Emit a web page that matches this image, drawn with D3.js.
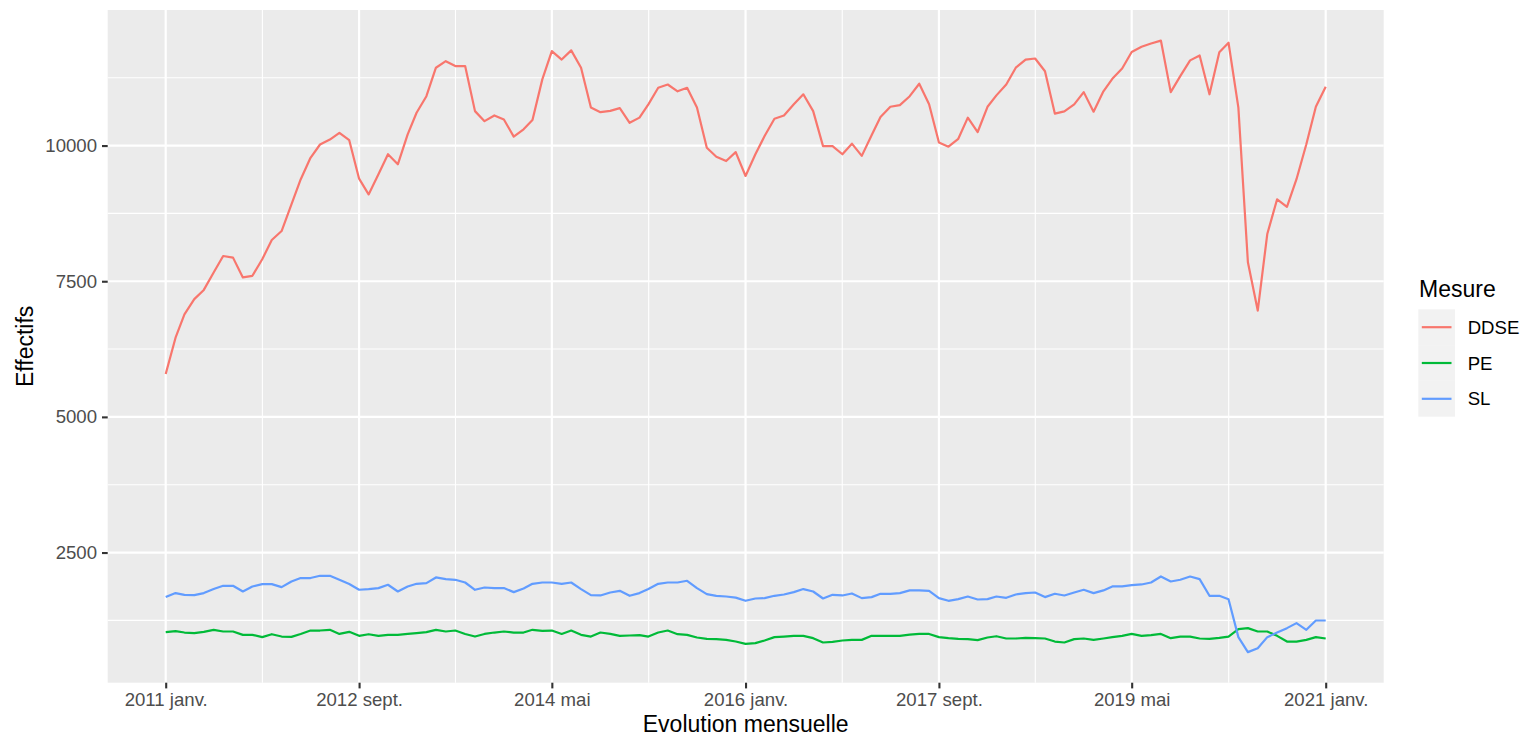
<!DOCTYPE html>
<html>
<head>
<meta charset="utf-8">
<script src="https://cdn.jsdelivr.net/npm/d3@7"></script>
<style>
  html, body { margin: 0; padding: 0; background: #ffffff; }
  svg { display: block; font-family: "Liberation Sans", Arial, sans-serif; }
</style>
</head>
<body>
<svg id="chart" width="1524" height="736"></svg>
<script>
// ---- data ----
const startMonth = "2011-01";
const seriesNames = ["DDSE", "PE", "SL"];
const seriesColors = ["#F8766D", "#00BA38", "#619CFF"];

const ddse = [5790,6460,6890,7170,7340,7660,7965,7935,7570,7600,7905,8260,8425,8915,9375,9775,10020,10110,10235,10100,
  9390,9100,9470,9840,9655,10205,10605,10910,11435,11555,11465,11465,10635,10450,10555,10480,10165,10300,10470,11220,
  11740,11585,11755,11435,10700,10615,10640,10690,10420,10515,10760,11065,11125,11000,11065,10700,9960,9795,9715,9880,
  9440,9840,10175,10495,10555,10760,10945,10635,9990,9990,9840,10035,9810,10190,10525,10715,10745,10910,11140,10760,
  10055,9980,10125,10515,10250,10715,10925,11125,11435,11585,11605,11370,10590,10630,10760,10985,10625,11000,11230,11420,
  11725,11820,11880,11935,10985,11280,11570,11660,10945,11720,11895,10700,7850,6960,8370,9010,8870,9380,10025,10715,11085];

const pe = [1033,1052,1026,1015,1039,1076,1045,1045,983,983,941,995,952,946,1000,1063,1063,1076,1000,1039,
  965,995,965,983,983,1000,1015,1033,1076,1045,1063,1000,952,1000,1026,1045,1026,1026,1076,1058,
  1063,1000,1063,983,952,1026,1000,965,971,977,952,1026,1063,995,983,934,910,904,891,860,
  817,830,879,941,952,965,965,922,842,854,879,891,891,965,965,965,965,989,1000,1000,
  941,922,910,904,885,934,958,916,916,928,922,916,860,842,904,916,891,916,941,965,
  1000,965,977,1000,922,952,952,916,910,928,952,1088,1107,1045,1045,965,860,860,891,941,916];

const sl = [1679,1753,1721,1715,1753,1827,1887,1887,1782,1875,1919,1919,1863,1967,2030,2030,2072,2072,1998,1919,
  1814,1827,1845,1906,1782,1875,1924,1937,2041,2011,1998,1948,1814,1856,1845,1845,1771,1839,1924,1948,
  1948,1924,1948,1827,1716,1709,1764,1795,1703,1753,1827,1924,1948,1948,1980,1845,1734,1703,1690,1670,
  1611,1653,1660,1703,1727,1771,1827,1782,1653,1721,1709,1746,1660,1679,1740,1740,1753,1802,1802,1795,
  1660,1611,1641,1690,1635,1641,1690,1666,1727,1753,1764,1679,1740,1709,1764,1814,1753,1802,1875,1875,
  1900,1912,1948,2059,1967,1998,2059,2011,1703,1703,1641,941,665,738,941,1026,1107,1199,1076,1248,1248];

const xTickDates = ["2011-01", "2012-09", "2014-05", "2016-01", "2017-09", "2019-05", "2021-01"];
const xTickLabels = ["2011 janv.", "2012 sept.", "2014 mai", "2016 janv.", "2017 sept.", "2019 mai", "2021 janv."];
const yTicks = [2500, 5000, 7500, 10000];
const yMinorTicks = [1250, 3750, 6250, 8750, 11250];
const xTitle = "Evolution mensuelle";
const yTitle = "Effectifs";
const legendTitle = "Mesure";

// ---- build ----
const parseMonth = d3.timeParse("%Y-%m");
const t0 = parseMonth(startMonth);
const dates = ddse.map((_, i) => d3.timeMonth.offset(t0, i));
const seriesValues = [ddse, pe, sl];
const series = seriesNames.map((name, k) => ({
  name, color: seriesColors[k],
  points: seriesValues[k].map((v, i) => ({ date: dates[i], value: v }))
}));

const panel = { left: 107.7, right: 1383.7, top: 10, bottom: 682.7 };
const svg = d3.select("#chart");

const xExt = d3.extent(dates);
const xPad = (xExt[1] - xExt[0]) * 0.05;
const x = d3.scaleTime()
  .domain([new Date(+xExt[0] - xPad), new Date(+xExt[1] + xPad)])
  .range([panel.left, panel.right]);

const allVals = seriesValues.flat();
const yExt = d3.extent(allVals);
const yPad = (yExt[1] - yExt[0]) * 0.05;
const y = d3.scaleLinear()
  .domain([yExt[0] - yPad, yExt[1] + yPad])
  .range([panel.bottom, panel.top]);

// panel background
svg.append("rect")
  .attr("x", panel.left).attr("y", panel.top)
  .attr("width", panel.right - panel.left).attr("height", panel.bottom - panel.top)
  .attr("fill", "#EBEBEB");

const xTicks = xTickDates.map(parseMonth);
const xMinor = [];
for (let i = 0; i < xTicks.length - 1; i++) {
  xMinor.push(new Date((+xTicks[i] + +xTicks[i + 1]) / 2));
}

const grid = svg.append("g");
// minor grid
grid.selectAll(".ymin").data(yMinorTicks).join("line")
  .attr("x1", panel.left).attr("x2", panel.right)
  .attr("y1", d => y(d)).attr("y2", d => y(d))
  .attr("stroke", "#ffffff").attr("stroke-width", 1.1);
grid.selectAll(".xmin").data(xMinor).join("line")
  .attr("y1", panel.top).attr("y2", panel.bottom)
  .attr("x1", d => x(d)).attr("x2", d => x(d))
  .attr("stroke", "#ffffff").attr("stroke-width", 1.1);
// major grid
grid.selectAll(".ymaj").data(yTicks).join("line")
  .attr("x1", panel.left).attr("x2", panel.right)
  .attr("y1", d => y(d)).attr("y2", d => y(d))
  .attr("stroke", "#ffffff").attr("stroke-width", 2.2);
grid.selectAll(".xmaj").data(xTicks).join("line")
  .attr("y1", panel.top).attr("y2", panel.bottom)
  .attr("x1", d => x(d)).attr("x2", d => x(d))
  .attr("stroke", "#ffffff").attr("stroke-width", 2.2);

// lines
const line = d3.line().x(d => x(d.date)).y(d => y(d.value));
svg.append("g").selectAll("path").data(series).join("path")
  .attr("d", d => line(d.points))
  .attr("fill", "none")
  .attr("stroke", d => d.color)
  .attr("stroke-width", 2.2)
  .attr("stroke-linejoin", "round")
  .attr("stroke-linecap", "butt");

// axes
const xAxis = d3.axisBottom(x).tickValues(xTicks)
  .tickFormat((d, i) => xTickLabels[i]).tickSize(5.7).tickPadding(4);
const gx = svg.append("g").attr("transform", `translate(0,${panel.bottom})`).call(xAxis);
gx.select(".domain").remove();
gx.selectAll(".tick line").attr("stroke", "#333333").attr("stroke-width", 2.1);
gx.selectAll(".tick text").attr("fill", "#4D4D4D").attr("font-size", "18.6px")
  .attr("font-family", "'Liberation Sans', Arial, sans-serif").attr("dy", "0.71em");

const yAxis = d3.axisLeft(y).tickValues(yTicks).tickFormat(d3.format("d")).tickSize(5.7).tickPadding(5);
const gy = svg.append("g").attr("transform", `translate(${panel.left},0)`).call(yAxis);
gy.select(".domain").remove();
gy.selectAll(".tick line").attr("stroke", "#333333").attr("stroke-width", 2.1);
gy.selectAll(".tick text").attr("fill", "#4D4D4D").attr("font-size", "18.6px")
  .attr("font-family", "'Liberation Sans', Arial, sans-serif");

// axis titles
svg.append("text")
  .attr("x", (panel.left + panel.right) / 2).attr("y", 732)
  .attr("text-anchor", "middle").attr("font-size", "23px").attr("fill", "#000000")
  .text(xTitle);
svg.append("text")
  .attr("transform", `translate(33,${(panel.top + panel.bottom) / 2}) rotate(-90)`)
  .attr("text-anchor", "middle").attr("font-size", "23px").attr("fill", "#000000")
  .text(yTitle);

// legend
const leg = svg.append("g");
const keyX = 1418.3, keyY = 309.3, keySize = 35.8;
leg.append("text").attr("x", 1419).attr("y", 296.7)
  .attr("font-size", "23px").attr("fill", "#000000").text(legendTitle);
const items = leg.selectAll(".item").data(series).join("g")
  .attr("transform", (d, i) => `translate(${keyX},${keyY + i * keySize})`);
items.append("rect").attr("width", 36.7).attr("height", keySize).attr("fill", "#F2F2F2");
items.append("line")
  .attr("x1", 3.5).attr("x2", 33.2)
  .attr("y1", keySize / 2).attr("y2", keySize / 2)
  .attr("stroke", d => d.color).attr("stroke-width", 2.2);
items.append("text")
  .attr("x", 1467.7 - keyX).attr("y", keySize / 2).attr("dy", "0.35em")
  .attr("font-size", "18.6px").attr("fill", "#000000")
  .text(d => d.name);
</script>
</body>
</html>
